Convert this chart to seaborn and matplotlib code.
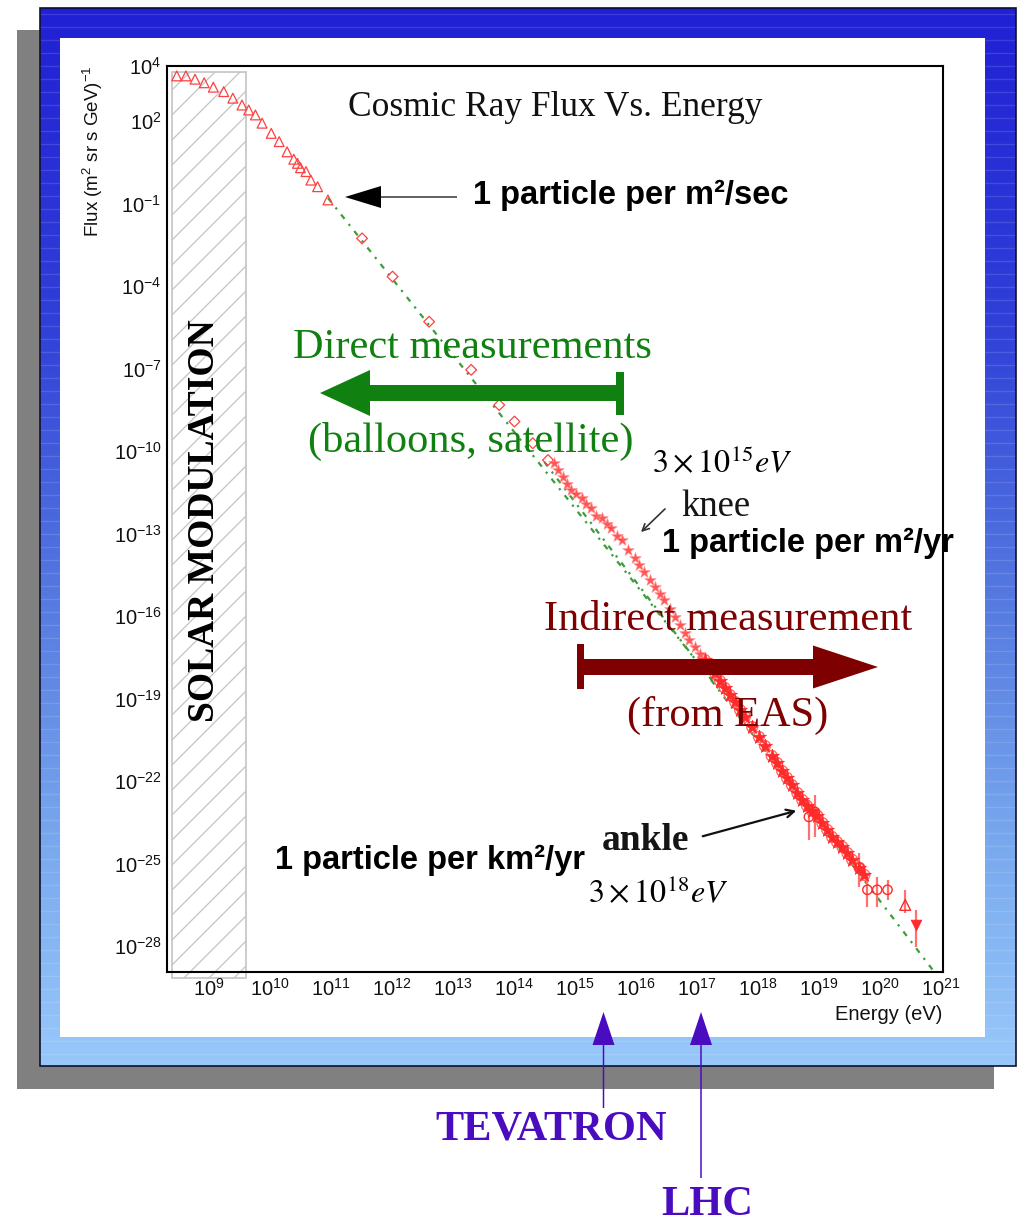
import numpy as np
import pandas as pd
import matplotlib
matplotlib.use("Agg")
import matplotlib.pyplot as plt
import seaborn as sns
from matplotlib.patches import Rectangle, FancyArrow
from matplotlib.colors import LinearSegmentedColormap
from matplotlib.ticker import FixedLocator, FixedFormatter, LogLocator, NullFormatter

# ---- dados (log10 de energia em eV, log10 do fluxo) ----
tri_logE = [8.47, 8.62, 8.77, 8.92, 9.07, 9.24, 9.39, 9.54, 9.65, 9.76, 9.87,
            10.02, 10.15, 10.28, 10.39, 10.45, 10.50, 10.59, 10.67, 10.78, 10.95]
tri_logF = [3.64, 3.64, 3.52, 3.39, 3.23, 3.07, 2.83, 2.58, 2.40, 2.22, 1.92,
            1.55, 1.25, 0.88, 0.61, 0.46, 0.30, 0.16, -0.15, -0.39, -0.87]

dia_logE = [11.51, 12.01, 12.61, 13.30, 13.76, 14.01, 14.31, 14.56]
dia_logF = [-2.27, -3.66, -5.30, -7.05, -8.33, -8.93, -9.72, -10.33]

knee_logE = [14.66, 14.72, 14.81, 14.88, 14.94, 15.02, 15.11, 15.19, 15.27, 15.35,
             15.44, 15.52, 15.60, 15.70, 15.77, 15.88, 15.98, 16.06, 16.14, 16.23,
             16.31, 16.39, 16.47, 16.56, 16.64, 16.72, 16.80, 16.88, 16.97, 17.05]
knee_logF = [-10.44, -10.69, -10.93, -11.20, -11.42, -11.56, -11.71, -11.93, -12.07, -12.36,
             -12.44, -12.65, -12.80, -13.09, -13.24, -13.60, -13.89, -14.15, -14.40, -14.69,
             -14.95, -15.20, -15.42, -15.75, -16.04, -16.33, -16.62, -16.87, -17.13, -17.38]

eas_logE = [17.13, 17.21, 17.30, 17.38, 17.46, 17.54, 17.63, 17.71, 17.79, 17.91,
            18.02, 18.12, 18.23, 18.32, 18.40, 18.48, 18.56, 18.65, 18.73, 18.81,
            18.89, 18.98, 19.06, 19.14, 19.22, 19.30, 19.39, 19.47, 19.55, 19.67, 19.75]
eas_logF = [-17.60, -17.85, -18.07, -18.36, -18.62, -18.87, -19.13, -19.42, -19.67, -20.04,
            -20.40, -20.73, -21.09, -21.35, -21.64, -21.89, -22.15, -22.44, -22.69, -22.91,
            -23.09, -23.27, -23.53, -23.78, -24.04, -24.22, -24.40, -24.62, -24.87, -25.16, -25.42]

eb_logE = [18.84, 18.94, 19.67, 19.80, 19.96, 20.13]
eb_logF = [-23.31, -23.13, -25.16, -25.96, -25.96, -25.96]
eb_lo = [-24.15, -24.04, -25.85, -26.58, -26.58, -26.33]
eb_hi = [-22.69, -22.51, -24.62, -25.49, -25.49, -25.60]

tail_logE = [20.42, 20.60]
tail_logF = [-26.51, -27.24]
tail_lo = [-26.80, -28.04]
tail_hi = [-25.96, -26.69]

fit1_logE = [10.95, 17.40]
fit1_logF = [-0.80, -18.76]
fit2_logE = [14.50, 20.87]
fit2_logF = [-10.40, -28.87]

x_exps = list(range(9, 22))
y_exps = list(range(-28, 5))
y_labeled = [4, 2, -1, -4, -7, -10, -13, -16, -19, -22, -25, -28]

RED = "#ff2a2a"
GREEN_TXT = "#108010"
GREEN_LN = "#3a9f3a"
DARKRED = "#7f0000"
PURPLE = "#4a0cbf"

sns.set_theme(style="white")
plt.rcParams["font.family"] = ["Liberation Sans", "DejaVu Sans"]
plt.rcParams["mathtext.fontset"] = "custom"
plt.rcParams["mathtext.rm"] = "Liberation Sans"
plt.rcParams["mathtext.it"] = "Liberation Sans:italic"
plt.rcParams["mathtext.bf"] = "Liberation Sans:bold"

fig = plt.figure(figsize=(10.2, 12.25), dpi=100)

# fundo: sombra, moldura azul em degradê, painel branco
bg = fig.add_axes([0, 0, 1, 1], zorder=0)
bg.set_axis_off()
bg.add_patch(Rectangle((17, 30), 977, 1059, color="#808080", lw=0))
cmap = LinearSegmentedColormap.from_list(
    "moldura", [(0, "#2020d4"), (0.3, "#3040d8"), (0.55, "#5478e0"),
                (0.8, "#7aaaee"), (1, "#98c8fa")])
grad = np.linspace(0, 1, 256)[:, None]
bg.imshow(grad, cmap=cmap, extent=(40, 1016, 1066, 8), aspect="auto", zorder=1)
for yy in np.arange(14, 1066, 13):
    bg.plot([40, 1016], [yy, yy], color="white", alpha=0.13, lw=1, zorder=2)
bg.add_patch(Rectangle((40, 8), 976, 1058, fill=False, ec="#101030", lw=1.2, zorder=3))
bg.add_patch(Rectangle((60, 38), 925, 999, color="white", lw=0, zorder=4))
caixa = Rectangle((172, 72), 74, 906, fill=False, ec="#c4c4c4", lw=1.2, zorder=6)
bg.add_patch(caixa)
for c in np.arange(90, 1060, 25):
    ln, = bg.plot([172, 246], [c, c - 74], color="#c4c4c4", lw=0.9, zorder=5)
    ln.set_clip_path(caixa)
bg.set_xlim(0, 1020)
bg.set_ylim(1225, 0)

# eixo principal
ax = fig.add_axes([167 / 1020, 1 - 972 / 1225, 776 / 1020, 906 / 1225], zorder=1)
ax.set_facecolor("none")
ax.set_xscale("log")
ax.set_yscale("log")

def pot(v):
    return 10.0 ** np.array(v)

sns.lineplot(x=pot(fit1_logE), y=pot(fit1_logF), ax=ax, color=GREEN_LN, lw=1.6,
             linestyle=(0, (2.5, 3, 1, 3)), zorder=2)
sns.lineplot(x=pot(fit2_logE), y=pot(fit2_logF), ax=ax, color=GREEN_LN, lw=1.6,
             linestyle=(0, (2.5, 3, 1, 3)), zorder=2)

ax.vlines(pot(eb_logE), pot(eb_lo), pot(eb_hi), color="#ff7070", lw=1.6, zorder=3)
ax.vlines(pot(tail_logE), pot(tail_lo), pot(tail_hi), color="#ff7070", lw=1.6, zorder=3)

sns.scatterplot(x=pot(tri_logE), y=pot(tri_logF), ax=ax, marker="^", s=50,
                facecolor="none", edgecolor="#ff4040", linewidth=0.9, zorder=4)
sns.scatterplot(x=pot(dia_logE), y=pot(dia_logF), ax=ax, marker="D", s=30,
                facecolor="none", edgecolor="#ff4040", linewidth=0.9, zorder=4)
sns.scatterplot(x=pot(knee_logE), y=pot(knee_logF), ax=ax, marker="*", s=75,
                color=RED, edgecolor="#ff9090", linewidth=0.6, alpha=0.8, zorder=4)
sns.scatterplot(x=pot(eas_logE), y=pot(eas_logF), ax=ax, marker="o", s=60,
                facecolor="none", edgecolor="#ff6a6a", linewidth=1.0, zorder=4)
sns.scatterplot(x=pot(eas_logE), y=pot(eas_logF), ax=ax, marker="*", s=110,
                color=RED, edgecolor=RED, linewidth=0.5, zorder=5)
sns.scatterplot(x=pot(eb_logE), y=pot(eb_logF), ax=ax, marker="o", s=45,
                facecolor="none", edgecolor=RED, linewidth=1.0, zorder=5)
sns.scatterplot(x=pot(tail_logE[:1]), y=pot(tail_logF[:1]), ax=ax, marker="^", s=60,
                facecolor="none", edgecolor=RED, linewidth=1.0, zorder=5)
sns.scatterplot(x=pot(tail_logE[1:]), y=pot(tail_logF[1:]), ax=ax, marker="v", s=60,
                color=RED, edgecolor=RED, linewidth=0.5, zorder=5)

ax.set_xlim(10 ** 8.31, 10 ** 21.04)
ax.set_ylim(10 ** -28.95, 10 ** 4.0)

ax.xaxis.set_major_locator(FixedLocator(pot(x_exps)))
ax.xaxis.set_major_formatter(FixedFormatter([f"$10^{{{e}}}$" for e in x_exps]))
ax.xaxis.set_minor_locator(LogLocator(base=10, subs=np.arange(2, 10), numticks=100))
ax.xaxis.set_minor_formatter(NullFormatter())
ax.yaxis.set_major_locator(FixedLocator(pot(y_exps)))
ax.yaxis.set_major_formatter(FixedFormatter(
    [f"$10^{{{e}}}$" if e in y_labeled else "" for e in y_exps]))
ax.yaxis.set_minor_locator(FixedLocator(5 * pot(np.arange(-29, 4))))
ax.yaxis.set_minor_formatter(NullFormatter())

ax.tick_params(axis="both", which="both", direction="in", color="black", width=1.2,
               top=False, right=False, labelsize=14.5, labelcolor="#111111")
ax.tick_params(axis="x", which="major", length=7, pad=4)
ax.tick_params(axis="x", which="minor", length=3.5)
ax.tick_params(axis="y", which="major", length=8, pad=4)
ax.tick_params(axis="y", which="minor", length=6)
for s in ax.spines.values():
    s.set_color("black")
    s.set_linewidth(1.5)
ax.set_xlabel("")
ax.set_ylabel("")

# camada de anotações em pixels
ov = fig.add_axes([0, 0, 1, 1], zorder=2)
ov.set_axis_off()
ov.patch.set_alpha(0)
ov.set_xlim(0, 1020)
ov.set_ylim(1225, 0)

serif = "Liberation Serif"
ov.text(555, 107, "Cosmic Ray Flux Vs. Energy", family=serif, fontsize=25.5,
        ha="center", va="center", color="#111111")
ov.text(93, 151, "Flux (m$^2$ sr s GeV)$^{-1}$", rotation=90, fontsize=13.5,
        ha="center", va="center", color="#111111")
ov.text(942, 1015, "Energy (eV)", fontsize=14.5, ha="right", va="center", color="#111111")

ov.add_patch(FancyArrow(457, 197, -112, 0, width=1.2, head_width=22, head_length=36,
                        length_includes_head=True, color="black", lw=0))
ov.text(473, 195, "1 particle per m²/sec", fontsize=23.5, weight="bold",
        ha="left", va="center", color="black")

ov.text(472, 348, "Direct measurements", family=serif, fontsize=30.5,
        ha="center", va="center", color=GREEN_TXT)
ov.add_patch(FancyArrow(622, 393, -302, 0, width=16, head_width=46, head_length=50,
                        length_includes_head=True, color=GREEN_TXT, lw=0))
ov.add_patch(Rectangle((616, 372), 8, 43, color=GREEN_TXT, lw=0))
ov.text(471, 441, "(balloons, satellite)", family=serif, fontsize=30.5,
        ha="center", va="center", color=GREEN_TXT)

ov.text(722, 463, r"$3\times10^{15}eV$", math_fontfamily="stix", fontsize=23,
        ha="center", va="center", color="black")
ov.text(716, 507, "knee", family=serif, fontsize=26.5, ha="center", va="center",
        color="#151515")
ov.annotate("", xy=(639, 534), xytext=(667, 507),
            arrowprops=dict(arrowstyle="->", color="#333333", lw=1.2, mutation_scale=12))
ov.text(662, 543, "1 particle per m²/yr", fontsize=23.5, weight="bold",
        ha="left", va="center", color="black")

ov.text(728, 620, "Indirect measurement", family=serif, fontsize=30.5,
        ha="center", va="center", color=DARKRED)
ov.add_patch(FancyArrow(580, 667, 298, 0, width=16, head_width=43, head_length=65,
                        length_includes_head=True, color=DARKRED, lw=0))
ov.add_patch(Rectangle((577, 644), 7, 45, color=DARKRED, lw=0))
ov.text(728, 715, "(from EAS)", family=serif, fontsize=30.5,
        ha="center", va="center", color=DARKRED)

ov.text(646, 841, "ankle", family=serif, fontsize=27, ha="center", va="center",
        color="#151515", weight="bold")
ov.annotate("", xy=(799, 810), xytext=(700, 837),
            arrowprops=dict(arrowstyle="->", color="#111111", lw=1.6, mutation_scale=14))
ov.text(275, 860, "1 particle per km²/yr", fontsize=23.5, weight="bold",
        ha="left", va="center", color="black")
ov.text(658, 893, r"$3\times10^{18}eV$", math_fontfamily="stix", fontsize=23,
        ha="center", va="center", color="black")

ov.text(205, 521, "SOLAR MODULATION", family=serif, fontsize=27, weight="bold",
        rotation=90, ha="center", va="center", color="black")

ov.add_patch(FancyArrow(603.5, 1108, 0, -96, width=1.5, head_width=22, head_length=33,
                        length_includes_head=True, color=PURPLE, lw=0))
ov.add_patch(FancyArrow(701, 1178, 0, -166, width=1.5, head_width=22, head_length=33,
                        length_includes_head=True, color=PURPLE, lw=0))
ov.text(551, 1130, "TEVATRON", family=serif, fontsize=30.5, weight="bold",
        ha="center", va="center", color=PURPLE)
ov.text(707, 1205, "LHC", family=serif, fontsize=30.5, weight="bold",
        ha="center", va="center", color=PURPLE)

fig.savefig("out.png", dpi=100)
